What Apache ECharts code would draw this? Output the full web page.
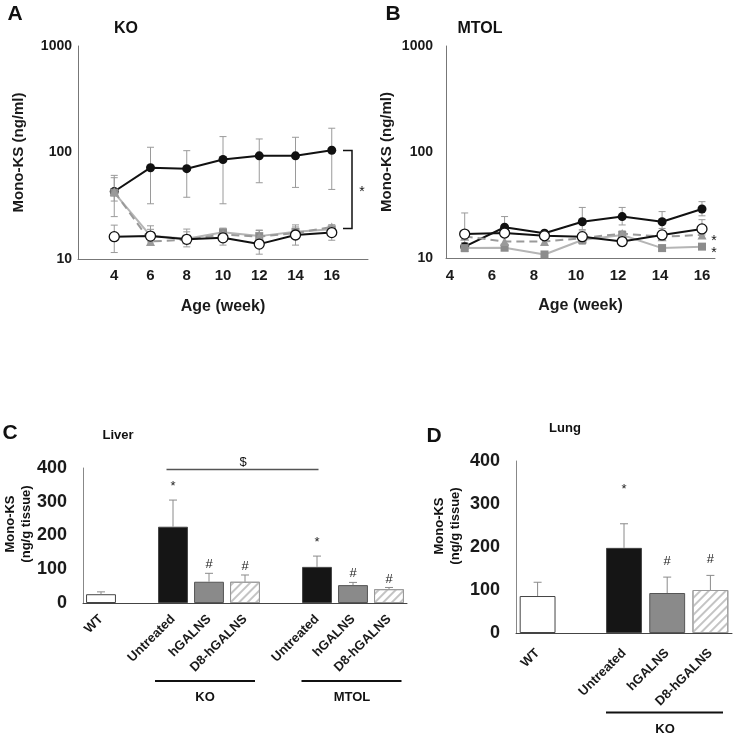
<!DOCTYPE html>
<html><head><meta charset="utf-8">
<script src="https://cdn.jsdelivr.net/npm/echarts@6/dist/echarts.min.js"></script>
<style>html,body{margin:0;padding:0;background:#fff}#c{width:733px;height:739px}</style>
</head><body><div id="c"></div>
<script>
// ---------- Panel A: KO plasma (ng/ml, log scale) ----------
const xTicksA = [4, 6, 8, 10, 12, 14, 16];
const agesA = [4, 6, 8, 10, 12, 14, 16];
const aUntreated   = [43, 72, 70.5, 86, 93, 93, 105];
const aUntreatedLo = [25, 33, 38, 33, 52, 47, 45];
const aUntreatedHi = [61, 112, 104, 141, 134, 139, 169];
const aWT   = [16.2, 16.4, 15.3, 15.8, 13.8, 16.8, 17.7];
const aWTLo = [11.5, 13.5, 13, 13.5, 11.1, 13.5, 15];
const aWTHi = [20.8, 20.5, 19.1, 18.5, 18.7, 20.9, 19.5];
const aHG   = [42, 16.5, 15.5, 17.8, 16.4, 18, 19];
const aHGLo = [35, 14.5, 14, 15, 14.5, 16, 17];
const aHGHi = [58, 19, 18, 19.5, 18.5, 20, 21];
const aD8   = [43, 14.6, 15.2, 17, 16.2, 17.5, 20];

// ---------- Panel B: MTOL plasma ----------
const xTicksB = [4, 6, 8, 10, 12, 14, 16];
const agesB = [4.7, 6.6, 8.5, 10.3, 12.2, 14.1, 16];
const bUntreated   = [12.8, 19.5, 17.1, 22, 24.6, 22, 29];
const bUntreatedLo = [11.5, 17, 16, 18.5, 20.5, 19, 25];
const bUntreatedHi = [14, 24.6, 18.2, 30, 30, 27.4, 34];
const bWT   = [16.8, 17.2, 16.2, 15.9, 14.3, 16.5, 18.8];
const bWTLo = [13.5, 16, 15, 14, 13, 15, 16.5];
const bWTHi = [26.6, 19, 17.5, 18, 16.5, 18, 23];
const bHG   = [12.4, 12.5, 10.8, 14.8, 16.5, 12.4, 12.8];
const bHGLo = [11.5, 11.8, 10.3, 13.5, 15, 11.8, 12.2];
const bHGHi = [13.5, 13.5, 11.5, 16, 18, 13.2, 13.5];
const bD8   = [16, 14.3, 14.3, 15.4, 17, 15.9, 16.5];

// ---------- Panel C: Liver ----------
const liverCats   = ['WT', '', 'Untreated', 'hGALNS', 'D8-hGALNS', '', 'Untreated', 'hGALNS', 'D8-hGALNS'];
const liverValues = [26, null, 226, 63, 63, null, 107, 53, 41];
const liverErrTop = [33, null, 305, 88, 83, null, 139, 61, 46];
const liverMarks  = ['', '', '*', '#', '#', '', '*', '#', '#'];

// ---------- Panel D: Lung ----------
const lungCats   = ['WT', '', 'Untreated', 'hGALNS', 'D8-hGALNS'];
const lungValues = [86, null, 198, 93, 100];
const lungErrTop = [118, null, 254, 130, 134];
const lungMarks  = ['', '', '*', '#', '#'];

const FONT = '"Liberation Sans", Arial, sans-serif';

const barStyles = {
  'WT':        {color: '#ffffff', borderColor: '#444', borderWidth: 1},
  'Untreated': {color: '#151515', borderColor: '#444', borderWidth: 1},
  'hGALNS':    {color: '#8a8a8a', borderColor: '#555', borderWidth: 1},
  'D8-hGALNS': {color: '#ffffff', borderColor: '#999', borderWidth: 1,
                decal: {symbol: 'rect', symbolSize: 1, dashArrayX: [[1, 0]], dashArrayY: [2, 4],
                        rotation: -Math.PI / 4, color: '#c4c4c4'}}
};

function pairs(xs, ys) { return xs.map((x, i) => [x, ys[i]]); }
function triples(xs, lo, hi) { return xs.map((x, i) => [x, lo[i], hi[i]]); }

function errRender(params, api) {
  const x = api.value(0), lo = api.value(1), hi = api.value(2);
  const pl = api.coord([x, lo]), ph = api.coord([x, hi]);
  const w = 3.5, st = {stroke: '#9a9a9a', lineWidth: 1};
  return {type: 'group', children: [
    {type: 'line', shape: {x1: pl[0], y1: pl[1], x2: ph[0], y2: ph[1]}, style: st},
    {type: 'line', shape: {x1: ph[0] - w, y1: ph[1], x2: ph[0] + w, y2: ph[1]}, style: st},
    {type: 'line', shape: {x1: pl[0] - w, y1: pl[1], x2: pl[0] + w, y2: pl[1]}, style: st}
  ]};
}

function barErrRender(marks, gaps) {
  return function (params, api) {
    const i = api.value(0), v = api.value(1), hi = api.value(2);
    const p0 = api.coord([i, v]), p1 = api.coord([i, hi]);
    const st = {stroke: '#8a8a8a', lineWidth: 1};
    const ch = [
      {type: 'line', shape: {x1: p0[0], y1: p0[1], x2: p1[0], y2: p1[1]}, style: st},
      {type: 'line', shape: {x1: p1[0] - 4, y1: p1[1], x2: p1[0] + 4, y2: p1[1]}, style: st}
    ];
    const m = marks[i];
    if (m) {
      ch.push({type: 'text', x: p1[0], y: p1[1] - gaps[m],
        style: {text: m, font: '13px ' + FONT, fill: '#222', textAlign: 'center', textVerticalAlign: 'bottom'}});
    }
    return {type: 'group', children: ch};
  };
}

function barData(cats, vals) {
  return vals.map((v, i) => v == null ? '-' : {value: v, itemStyle: barStyles[cats[i]]});
}
function barErrData(vals, tops) {
  const out = [];
  vals.forEach((v, i) => { if (v != null) out.push([i, v, tops[i]]); });
  return out;
}

const boldLabel = (size) => ({fontFamily: FONT, fontWeight: 'bold', fontSize: size, color: '#1a1a1a'});

function lineSet(xi, ages, untr, untrLo, untrHi, wt, wtLo, wtHi, hg, hgLo, hgHi, d8) {
  const base = {type: 'line', xAxisIndex: xi, yAxisIndex: xi, animation: false};
  const eb = {type: 'custom', xAxisIndex: xi, yAxisIndex: xi, renderItem: errRender, z: 1, animation: false};
  return [
    Object.assign({}, eb, {data: triples(ages, hgLo, hgHi)}),
    Object.assign({}, eb, {data: triples(ages, untrLo, untrHi)}),
    Object.assign({}, eb, {data: triples(ages, wtLo, wtHi)}),
    Object.assign({}, base, {data: pairs(ages, untr), symbol: 'circle', symbolSize: 9, z: 3,
      itemStyle: {color: '#111'}, lineStyle: {color: '#111', width: 2}}),
    Object.assign({}, base, {data: pairs(ages, hg), symbol: 'rect', symbolSize: 8, z: 4,
      itemStyle: {color: '#8c8c8c'}, lineStyle: {color: '#b5b5b5', width: 2}}),
    Object.assign({}, base, {data: pairs(ages, d8), symbol: 'triangle', symbolSize: 9, z: 5,
      itemStyle: {color: '#9a9a9a'}, lineStyle: {color: '#9a9a9a', width: 2, type: [8, 5]}}),
    Object.assign({}, base, {data: pairs(ages, wt), symbol: 'circle', symbolSize: 10, z: 6,
      itemStyle: {color: '#fff', borderColor: '#111', borderWidth: 1.3}, lineStyle: {color: '#111', width: 2}})
  ];
}

const txt = (text, x, y, size, opts) => Object.assign({
  type: 'text', x: x, y: y, z: 100,
  style: {text: text, font: 'bold ' + size + 'px ' + FONT, fill: '#111', textAlign: 'center', textVerticalAlign: 'middle'}
}, opts || {});
const plain = (text, x, y, size) => ({type: 'text', x: x, y: y, z: 100,
  style: {text: text, font: size + 'px ' + FONT, fill: '#111', textAlign: 'center', textVerticalAlign: 'middle'}});
const ln = (x1, y1, x2, y2, color, w) => ({type: 'line', z: 100,
  shape: {x1: x1, y1: y1, x2: x2, y2: y2}, style: {stroke: color || '#111', lineWidth: w || 1.5}});

const logFmt = v => String(Math.round(v));

const option = {
  animation: false,
  backgroundColor: '#fff',
  grid: [
    {left: 78, top: 46, width: 290, height: 213},
    {left: 446, top: 46, width: 269, height: 212},
    {left: 83, top: 468, width: 324, height: 135},
    {left: 516, top: 461, width: 216, height: 172}
  ],
  xAxis: [
    {gridIndex: 0, type: 'value', min: 2, max: 18, interval: 2,
     axisLine: {lineStyle: {color: '#777', width: 1}}, axisTick: {show: false}, splitLine: {show: false},
     axisLabel: Object.assign(boldLabel(15), {margin: 9, formatter: v => xTicksA.includes(v) ? String(v) : ''}),
     name: 'Age (week)', nameLocation: 'middle', nameGap: 40, nameTextStyle: boldLabel(16)},
    {gridIndex: 1, type: 'value', min: 3.81, max: 16.62,
     axisLine: {lineStyle: {color: '#777', width: 1}}, axisTick: {show: false}, splitLine: {show: false},
     axisLabel: Object.assign(boldLabel(15), {margin: 10, customValues: xTicksB}),
     name: 'Age (week)', nameLocation: 'middle', nameGap: 40, nameTextStyle: boldLabel(16)},
    {gridIndex: 2, type: 'category', data: liverCats,
     axisLine: {lineStyle: {color: '#444', width: 1}}, axisTick: {show: false},
     axisLabel: Object.assign(boldLabel(13), {rotate: 45, interval: 0, margin: 14})},
    {gridIndex: 3, type: 'category', data: lungCats,
     axisLine: {lineStyle: {color: '#444', width: 1}}, axisTick: {show: false},
     axisLabel: Object.assign(boldLabel(13), {rotate: 45, interval: 0, margin: 18})}
  ],
  yAxis: [
    {gridIndex: 0, type: 'log', logBase: 10, min: 10, max: 1000,
     axisLine: {show: true, lineStyle: {color: '#777', width: 1}}, axisTick: {show: false}, splitLine: {show: false},
     axisLabel: Object.assign(boldLabel(14), {margin: 6, formatter: logFmt}),
     name: 'Mono-KS (ng/ml)', nameLocation: 'middle', nameGap: 52, nameTextStyle: boldLabel(15)},
    {gridIndex: 1, type: 'log', logBase: 10, min: 10, max: 1000,
     axisLine: {show: true, lineStyle: {color: '#777', width: 1}}, axisTick: {show: false}, splitLine: {show: false},
     axisLabel: Object.assign(boldLabel(14), {margin: 13, formatter: logFmt}),
     name: 'Mono-KS (ng/ml)', nameLocation: 'middle', nameGap: 52, nameTextStyle: boldLabel(15)},
    {gridIndex: 2, type: 'value', min: 0, max: 400, interval: 100,
     axisLine: {show: true, lineStyle: {color: '#888', width: 1}}, axisTick: {show: false}, splitLine: {show: false},
     axisLabel: Object.assign(boldLabel(18), {margin: 16})},
    {gridIndex: 3, type: 'value', min: 0, max: 400, interval: 100,
     axisLine: {show: true, lineStyle: {color: '#888', width: 1}}, axisTick: {show: false}, splitLine: {show: false},
     axisLabel: Object.assign(boldLabel(18), {margin: 16})}
  ],
  series: [].concat(
    lineSet(0, agesA, aUntreated, aUntreatedLo, aUntreatedHi, aWT, aWTLo, aWTHi, aHG, aHGLo, aHGHi, aD8),
    lineSet(1, agesB, bUntreated, bUntreatedLo, bUntreatedHi, bWT, bWTLo, bWTHi, bHG, bHGLo, bHGHi, bD8),
    [
      {type: 'bar', xAxisIndex: 2, yAxisIndex: 2, barCategoryGap: '17%', data: barData(liverCats, liverValues), z: 2},
      {type: 'custom', xAxisIndex: 2, yAxisIndex: 2, z: 3, renderItem: barErrRender(liverMarks, {'*': 7, '#': 2}),
       data: barErrData(liverValues, liverErrTop)},
      {type: 'bar', xAxisIndex: 3, yAxisIndex: 3, barCategoryGap: '17%', data: barData(lungCats, lungValues), z: 2},
      {type: 'custom', xAxisIndex: 3, yAxisIndex: 3, z: 3, renderItem: barErrRender(lungMarks, {'*': 28, '#': 9}),
       data: barErrData(lungValues, lungErrTop)}
    ]
  ),
  graphic: [
    txt('A', 15, 14, 21),
    txt('KO', 126, 29, 16),
    txt('B', 393, 14, 21),
    txt('MTOL', 480, 29, 16),
    // A bracket + star
    {type: 'polyline', z: 100, shape: {points: [[343, 150.5], [352, 150.5], [352, 228.5], [343, 228.5]]},
     style: {stroke: '#111', lineWidth: 1.5, fill: null}},
    plain('*', 362, 192, 14),
    // B stars
    plain('*', 714, 241, 14),
    plain('*', 714, 253, 14),
    // C
    txt('C', 10, 433, 21),
    txt('Liver', 118, 435, 13),
    txt('Mono-KS\n(ng/g tissue)', 18, 524, 13, {rotation: Math.PI / 2,
      style: {text: 'Mono-KS\n(ng/g tissue)', font: 'bold 13px ' + FONT, fill: '#111', textAlign: 'center', textVerticalAlign: 'middle', lineHeight: 16}}),
    ln(166.5, 469.5, 318.5, 469.5, '#555', 1.5),
    plain('$', 243, 462, 13),
    ln(155, 681, 255, 681, '#111', 2),
    txt('KO', 205, 697, 13),
    ln(301.5, 681, 401.5, 681, '#111', 2),
    txt('MTOL', 352, 697, 13),
    // D
    txt('D', 434, 436, 21),
    txt('Lung', 565, 428, 13),
    txt('Mono-KS\n(ng/g tissue)', 447, 526, 13, {rotation: Math.PI / 2,
      style: {text: 'Mono-KS\n(ng/g tissue)', font: 'bold 13px ' + FONT, fill: '#111', textAlign: 'center', textVerticalAlign: 'middle', lineHeight: 16}}),
    ln(606, 712.5, 723, 712.5, '#111', 2),
    txt('KO', 665, 729, 13)
  ]
};

const chart = echarts.init(document.getElementById('c'), null, {renderer: 'canvas'});
chart.setOption(option);
</script>
</body></html>
